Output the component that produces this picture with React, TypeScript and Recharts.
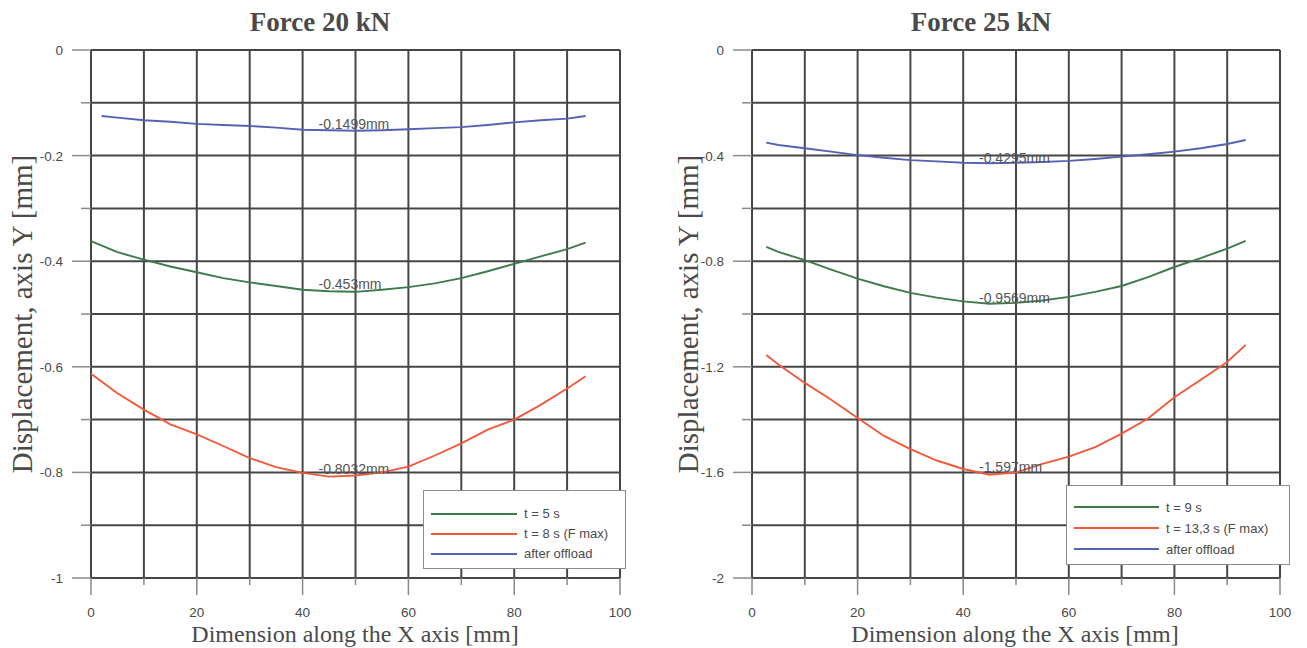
import { LineChart, Line, XAxis, YAxis, CartesianGrid, Legend, ReferenceDot } from 'recharts';

// x positions along the beam [mm]
const xMain = [0, 5, 10, 15, 20, 25, 30, 35, 40, 45, 50, 55, 60, 65, 70, 75, 80, 85, 90, 93.5];
const xOffload = [2, 5, 10, 15, 20, 25, 30, 35, 40, 45, 50, 55, 60, 65, 70, 75, 80, 85, 90, 93.5];
const xRight = [2.7, 5, 10, 15, 20, 25, 30, 35, 40, 45, 50, 55, 60, 65, 70, 75, 80, 85, 90, 93.5];

// Force 20 kN
const f20t5 = [-0.362, -0.383, -0.397, -0.41, -0.421, -0.432, -0.44, -0.447, -0.454, -0.457, -0.458, -0.454, -0.449, -0.442, -0.432, -0.419, -0.405, -0.391, -0.377, -0.365];
const f20t8 = [-0.613, -0.65, -0.681, -0.709, -0.728, -0.75, -0.773, -0.79, -0.801, -0.808, -0.806, -0.8, -0.789, -0.768, -0.745, -0.719, -0.7, -0.672, -0.641, -0.618];
const f20off = [-0.125, -0.128, -0.133, -0.136, -0.14, -0.142, -0.144, -0.147, -0.151, -0.152, -0.153, -0.152, -0.15, -0.148, -0.146, -0.142, -0.137, -0.133, -0.13, -0.125];

// Force 25 kN
const f25t9 = [-0.746, -0.765, -0.796, -0.832, -0.866, -0.895, -0.92, -0.938, -0.952, -0.961, -0.958, -0.949, -0.935, -0.916, -0.894, -0.86, -0.822, -0.788, -0.752, -0.723];
const f25t13 = [-1.155, -1.191, -1.261, -1.325, -1.394, -1.462, -1.512, -1.555, -1.587, -1.609, -1.6, -1.568, -1.54, -1.504, -1.453, -1.396, -1.315, -1.249, -1.182, -1.117];
const f25off = [-0.351, -0.36, -0.372, -0.385, -0.398, -0.408, -0.417, -0.422, -0.427, -0.429, -0.427, -0.424, -0.42, -0.413, -0.404, -0.395, -0.385, -0.372, -0.356, -0.341];

const xTicks = [0, 10, 20, 30, 40, 50, 60, 70, 80, 90, 100];
const yTicks20 = [-1, -0.9, -0.8, -0.7, -0.6, -0.5, -0.4, -0.3, -0.2, -0.1, 0];
const yTicks25 = [-2, -1.8, -1.6, -1.4, -1.2, -1, -0.8, -0.6, -0.4, -0.2, 0];

const names20 = ['t = 5 s', 't = 8 s (F max)', 'after offload'];
const names25 = ['t = 9 s', 't = 13,3 s (F max)', 'after offload'];

const minLabels20 = [
  { x: 43, y: -0.1499, text: '-0.1499mm' },
  { x: 43, y: -0.453, text: '-0.453mm' },
  { x: 43, y: -0.8032, text: '-0.8032mm' },
];
const minLabels25 = [
  { x: 43, y: -0.4295, text: '-0.4295mm' },
  { x: 43, y: -0.9569, text: '-0.9569mm' },
  { x: 43, y: -1.597, text: '-1.597mm' },
];

const GREEN = '#3d7b4c';
const RED = '#f2583b';
const BLUE = '#5462b4';
const GRID = '#464646';
const TXT = '#4a4a4a';
const SANS = '"Liberation Sans", Arial, sans-serif';
const SERIF = '"Liberation Serif", "Times New Roman", serif';

const pts = (xs: number[], ys: number[]) => xs.map((x, i) => ({ x, y: ys[i] }));

function XTick(props: any) {
  const { x, y, index, payload } = props;
  const major = index % 2 === 0;
  return (
    <g>
      <line x1={x} x2={x} y1={y} y2={y + (major ? 17 : 7)} stroke="#8a8a8a" strokeWidth={1.5} />
      {major && (
        <text x={x} y={y + 39} textAnchor="middle" fontSize={13.5} fontFamily={SANS} fill={TXT}>
          {payload.value}
        </text>
      )}
    </g>
  );
}

function YTick(props: any) {
  const { x, y, index, payload } = props;
  const major = index % 2 === 0;
  return (
    <g>
      <line x1={x - (major ? 19 : 10)} x2={x} y1={y} y2={y} stroke="#8a8a8a" strokeWidth={1.5} />
      {major && (
        <text x={x - 28} y={y + 5} textAnchor="end" fontSize={13.5} fontFamily={SANS} fill={TXT}>
          {String(Math.round(payload.value * 10) / 10)}
        </text>
      )}
    </g>
  );
}

function LegendBox({ names, w, h, padTop, row, lineW }: any) {
  const colors = [GREEN, RED, BLUE];
  return (
    <div
      style={{
        width: w,
        height: h,
        boxSizing: 'border-box',
        border: '1px solid #8c8c8c',
        background: '#fff',
        paddingTop: padTop,
        paddingLeft: 7,
      }}
    >
      {names.map((n: string, i: number) => (
        <div key={n} style={{ display: 'flex', alignItems: 'center', height: row }}>
          <span style={{ width: lineW, height: 0, borderTop: `2px solid ${colors[i]}` }} />
          <span style={{ marginLeft: 7, fontFamily: SANS, fontSize: 13, color: TXT, whiteSpace: 'nowrap' }}>{n}</span>
        </div>
      ))}
    </div>
  );
}

function Panel(props: any) {
  const { left, width, marginRight, xs, xsOff, s1, s2, off, yDomain, yTicks, names, labels, legend } = props;
  return (
    <div style={{ position: 'absolute', left, top: 0 }}>
      <LineChart width={width} height={648} margin={{ top: 50, right: marginRight, bottom: 40, left: 31 }}>
        <CartesianGrid stroke={GRID} strokeWidth={2} />
        <XAxis
          type="number"
          dataKey="x"
          domain={[0, 100]}
          ticks={xTicks}
          height={30}
          tickSize={0}
          tickMargin={0}
          axisLine={false}
          tickLine={false}
          tick={<XTick />}
          interval={0}
        />
        <YAxis
          type="number"
          dataKey="y"
          domain={yDomain}
          ticks={yTicks}
          width={60}
          tickSize={0}
          tickMargin={0}
          axisLine={false}
          tickLine={false}
          tick={<YTick />}
          interval={0}
        />
        <Line data={pts(xs, s1)} dataKey="y" name={names[0]} stroke={GREEN} strokeWidth={1.9} dot={false} isAnimationActive={false} />
        <Line data={pts(xs, s2)} dataKey="y" name={names[1]} stroke={RED} strokeWidth={1.9} dot={false} isAnimationActive={false} />
        <Line data={pts(xsOff, off)} dataKey="y" name={names[2]} stroke={BLUE} strokeWidth={1.9} dot={false} isAnimationActive={false} />
        {labels.map((l: any) => (
          <ReferenceDot
            key={l.text}
            x={l.x}
            y={l.y}
            r={0}
            shape={(p: any) => (
              <text x={p.cx} y={p.cy} fontSize={14} fontFamily={SANS} fill="#555">
                {l.text}
              </text>
            )}
          />
        ))}
        <Legend
          layout="horizontal"
          verticalAlign="middle"
          align="center"
          wrapperStyle={{ left: legend.left, top: legend.top, width: legend.w, height: legend.h }}
          content={() => <LegendBox names={names} {...legend} />}
        />
      </LineChart>
    </div>
  );
}

const textDiv = (cx: number, cy: number, text: string, style: any, rotate = false) => (
  <div
    style={{
      position: 'absolute',
      left: cx - 250,
      top: cy - 20,
      width: 500,
      height: 40,
      lineHeight: '40px',
      textAlign: 'center',
      color: TXT,
      fontFamily: SERIF,
      transform: rotate ? 'rotate(-90deg)' : undefined,
      ...style,
    }}
  >
    {text}
  </div>
);

export default function App() {
  return (
    <div style={{ position: 'absolute', left: 0, top: 0, width: 1307, height: 648, background: '#fff', overflow: 'hidden' }}>
      <Panel
        left={0}
        width={660}
        marginRight={40}
        xs={xMain}
        xsOff={xOffload}
        s1={f20t5}
        s2={f20t8}
        off={f20off}
        yDomain={[-1, 0]}
        yTicks={yTicks20}
        names={names20}
        labels={minLabels20}
        legend={{ left: 423, top: 490, w: 203, h: 79, padTop: 12.7, row: 20, lineW: 86 }}
      />
      <Panel
        left={661}
        width={646}
        marginRight={27}
        xs={xRight}
        xsOff={xRight}
        s1={f25t9}
        s2={f25t13}
        off={f25off}
        yDomain={[-2, 0]}
        yTicks={yTicks25}
        names={names25}
        labels={minLabels25}
        legend={{ left: 405, top: 485, w: 224, h: 80, padTop: 10.5, row: 21, lineW: 85 }}
      />
      {textDiv(320, 22, 'Force 20 kN', { fontSize: 27, fontWeight: 'bold' })}
      {textDiv(981, 22, 'Force 25 kN', { fontSize: 27, fontWeight: 'bold' })}
      {textDiv(355, 634, 'Dimension along the X axis [mm]', { fontSize: 24 })}
      {textDiv(1015, 634, 'Dimension along the X axis [mm]', { fontSize: 24 })}
      {textDiv(22, 314, 'Displacement, axis Y [mm]', { fontSize: 29 }, true)}
      {textDiv(688, 314, 'Displacement, axis Y [mm]', { fontSize: 29 }, true)}
    </div>
  );
}
